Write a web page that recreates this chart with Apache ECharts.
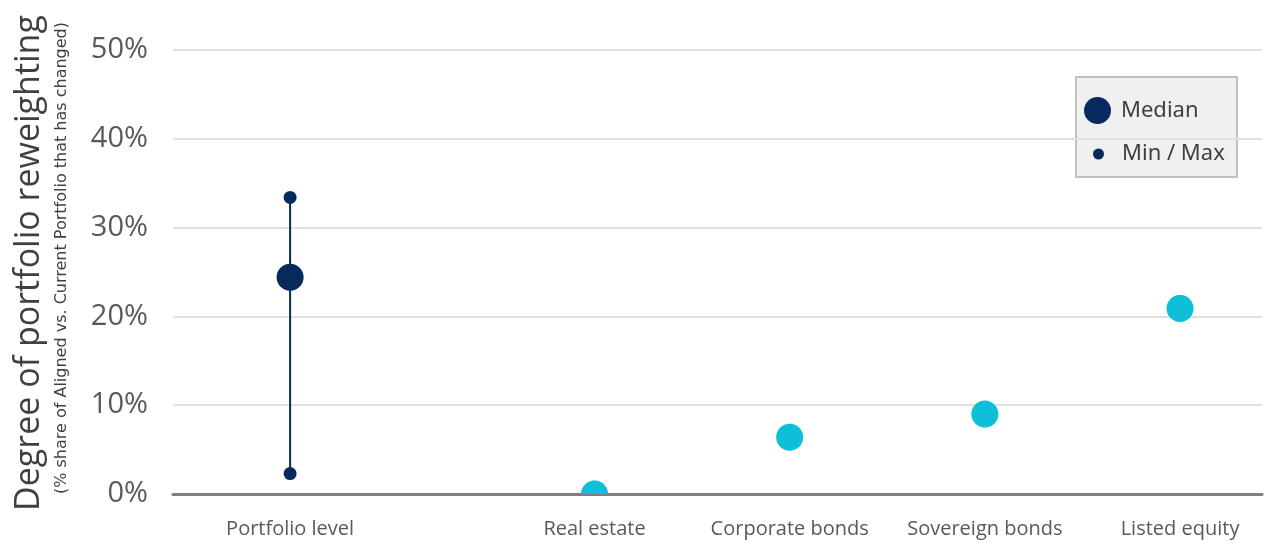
<!DOCTYPE html>
<html>
<head>
<meta charset="utf-8">
<script src="https://cdn.jsdelivr.net/npm/echarts@6/dist/echarts.min.js"></script>
<style>
  html, body { margin: 0; padding: 0; background: #ffffff; }
  #chart { width: 1264px; height: 543px; }
</style>
</head>
<body>
<div id="chart"></div>
<script>
// Degree of portfolio reweighting: portfolio-level median with min/max range,
// and the median reweighting per asset class.
const categories = ['Portfolio level', 'Real estate', 'Corporate bonds', 'Sovereign bonds', 'Listed equity'];
const portfolioMedian = [24.4];
const portfolioMin = [2.3];
const portfolioMax = [33.4];
const assetClassValues = [0, 6.4, 9.0, 20.9];
const yTicks = [0, 10, 20, 30, 40, 50];

// Horizontal slots: the portfolio sits on its own, the asset classes follow
// after a wider gap, one unit apart.
const GROUP_GAP = 1.56;
const slots = categories.map((c, i) => (i === 0 ? 0 : GROUP_GAP + (i - 1)));

const NAVY = '#062a5c';
const CYAN = '#0dc0d8';
const TEXT = '#595959';
const FONT = '"Open Sans", "Noto Sans", sans-serif';
const LEGEND_FONT = '"Noto Sans", "DejaVu Sans", sans-serif';
const DOT_RADIUS = 13.5;

const chart = echarts.init(document.getElementById('chart'), null, { renderer: 'canvas' });

chart.setOption({
  animation: false,
  backgroundColor: '#ffffff',
  grid: { left: 173, right: 2, top: 50, bottom: 49, containLabel: false },
  xAxis: {
    type: 'value',
    min: -0.6,
    max: 4.98,
    splitLine: { show: false },
    axisTick: { show: false },
    axisLine: { show: true, onZero: false, lineStyle: { color: '#7f7f7f', width: 3 } },
    axisLabel: {
      customValues: slots,
      margin: 25,
      fontFamily: FONT,
      fontSize: 20,
      color: TEXT,
      formatter: (v) => {
        let best = 0;
        slots.forEach((s, i) => { if (Math.abs(s - v) < Math.abs(slots[best] - v)) best = i; });
        return categories[best];
      }
    }
  },
  yAxis: {
    type: 'value',
    min: yTicks[0],
    max: yTicks[yTicks.length - 1],
    interval: yTicks[1] - yTicks[0],
    axisLine: { show: false },
    axisTick: { show: false },
    splitLine: { show: true, lineStyle: { color: '#e0e0e0', width: 2 } },
    axisLabel: {
      margin: 25,
      fontFamily: FONT,
      fontSize: 29,
      color: TEXT,
      formatter: (v) => v + '%'
    }
  },
  legend: [
    {
      data: [{ name: 'Median', icon: 'circle' }],
      orient: 'vertical',
      left: 1084,
      top: 97,
      itemWidth: 27,
      itemHeight: 27,
      padding: 0,
      textStyle: { fontFamily: LEGEND_FONT, fontSize: 22, color: '#404040', padding: [0, 0, 0, 5] },
      selectedMode: false
    },
    {
      data: [{ name: 'Min / Max', icon: 'circle' }],
      orient: 'vertical',
      left: 1093,
      top: 143,
      itemWidth: 11,
      itemHeight: 11,
      padding: 0,
      textStyle: { fontFamily: LEGEND_FONT, fontSize: 22, color: '#404040', padding: [0, 0, 0, 13] },
      selectedMode: false
    }
  ],
  graphic: [
    {
      type: 'rect',
      z: -1,
      shape: { x: 1076, y: 77, width: 161, height: 100 },
      style: { fill: '#f0f0f0', stroke: '#c0c0c0', lineWidth: 2 }
    },
    {
      type: 'text',
      x: 29,
      y: 263,
      rotation: Math.PI / 2,
      style: {
        text: 'Degree of portfolio reweighting',
        font: '34px ' + FONT,
        fill: '#404040',
        align: 'center',
        verticalAlign: 'middle'
      }
    },
    {
      type: 'text',
      x: 62,
      y: 258,
      rotation: Math.PI / 2,
      style: {
        text: '(% share of Aligned vs. Current Portfolio that has changed)',
        font: '16px "DejaVu Sans", sans-serif',
        fill: '#404040',
        align: 'center',
        verticalAlign: 'middle'
      }
    }
  ],
  series: [
    {
      name: 'Min / Max',
      type: 'line',
      data: [[slots[0], portfolioMin[0]], [slots[0], portfolioMax[0]]],
      symbol: 'circle',
      symbolSize: 13,
      lineStyle: { color: NAVY, width: 2 },
      itemStyle: { color: NAVY },
      z: 3
    },
    {
      name: 'Median',
      type: 'scatter',
      data: [[slots[0], portfolioMedian[0]]],
      symbol: 'circle',
      symbolSize: 27,
      itemStyle: { color: NAVY, opacity: 1 },
      z: 4
    },
    {
      // dots are built as polygons clamped to the plot area, so a dot
      // sitting on the baseline only shows its upper half
      name: 'Asset classes',
      type: 'custom',
      clip: true,
      data: assetClassValues.map((v, i) => [slots[i + 1], v]),
      encode: { x: 0, y: 1 },
      renderItem: (params, api) => {
        const p = api.coord([api.value(0), api.value(1)]);
        const cs = params.coordSys;
        const pts = [];
        const n = 96;
        for (let k = 0; k < n; k++) {
          const a = (k / n) * Math.PI * 2;
          pts.push([p[0] + DOT_RADIUS * Math.cos(a), p[1] + DOT_RADIUS * Math.sin(a)]);
        }
        const clipped = echarts.graphic.clipPointsByRect(pts, {
          x: cs.x, y: cs.y, width: cs.width, height: cs.height
        });
        return {
          type: 'polygon',
          shape: { points: clipped },
          style: { fill: CYAN }
        };
      },
      z: 2
    }
  ]
});
</script>
</body>
</html>
